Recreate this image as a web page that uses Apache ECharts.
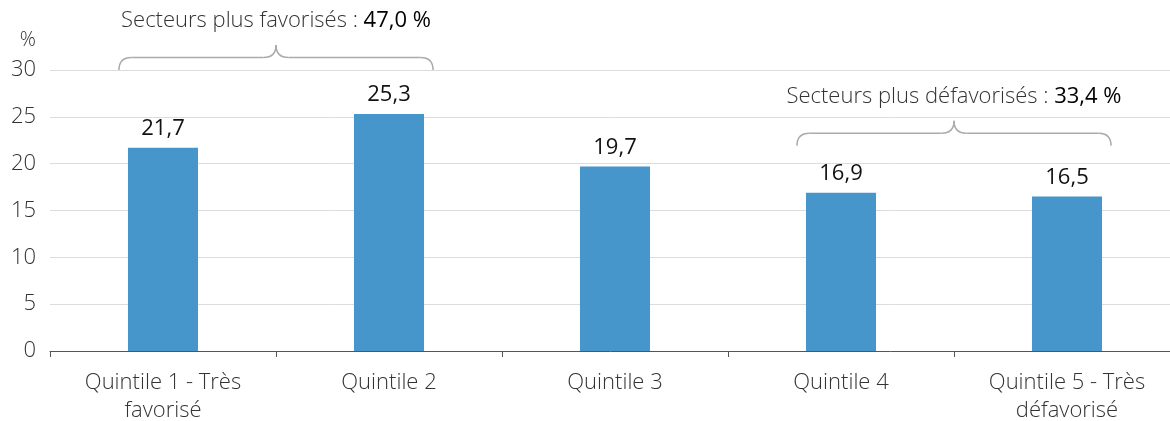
<!DOCTYPE html>
<html>
<head>
<meta charset="utf-8">
<script src="https://cdn.jsdelivr.net/npm/echarts@6/dist/echarts.min.js"></script>
<style>
  html, body { margin: 0; padding: 0; background: #fff; }
  #chart { width: 1170px; height: 421px; }
</style>
</head>
<body>
<div id="chart"></div>
<script>
// données
const categories = ["Quintile 1 - Très\nfavorisé", "Quintile 2", "Quintile 3", "Quintile 4", "Quintile 5 - Très\ndéfavorisé"];
const values = [21.7, 25.3, 19.7, 16.9, 16.5];
const yTicks = [0, 5, 10, 15, 20, 25, 30];
const groupLabels = ["Secteurs plus favorisés : ", "Secteurs plus défavorisés : "];
const groupTotals = ["47,0 %", "33,4 %"];
const groupRanges = [[0, 1], [3, 4]];

const font = "'Open Sans', 'Noto Sans', sans-serif";
const chart = echarts.init(document.getElementById("chart"));

chart.setOption({
  animation: false,
  textStyle: { fontFamily: font },
  grid: { left: 50, right: -10, top: 70, bottom: 70, containLabel: false, outerBoundsMode: "none" },
  xAxis: {
    type: "category",
    data: categories,
    axisLine: { lineStyle: { color: "#555", width: 1 } },
    axisTick: { show: true, length: 6, lineStyle: { color: "#555" } },
    axisLabel: { color: "#333", fontSize: 22, fontWeight: 300, lineHeight: 28, margin: 18, interval: 0 }
  },
  yAxis: {
    type: "value",
    min: yTicks[0],
    max: yTicks[yTicks.length - 1],
    interval: 5,
    name: "%",
    nameLocation: "end",
    nameGap: 20,
    nameTextStyle: { color: "#333", fontSize: 20, fontWeight: 300, align: "right", padding: [0, 14, 0, 0] },
    axisLine: { show: false },
    axisTick: { show: false },
    splitLine: { lineStyle: { color: "#dcdcdc", width: 1 } },
    axisLabel: { color: "#333", fontSize: 22, fontWeight: 300, margin: 14 }
  },
  series: [{
    type: "bar",
    data: values,
    barWidth: "31%",
    itemStyle: { color: "#4796cb" },
    label: {
      show: true,
      position: "top",
      distance: 8,
      color: "#111",
      fontSize: 22,
      fontFamily: font,
      formatter: p => String(p.value).replace(".", ",")
    }
  }]
});

// accolades et textes des regroupements
const braceStyle = { stroke: "#ababab", lineWidth: 1.5, fill: null };
function brace(x1, x2, yb, h) {
  const ym = yb - h / 2, yt = yb - h, xm = (x1 + x2) / 2, r = h / 2;
  const q = (a, b, c, d, e, f) => ({ type: "bezierCurve", shape: { x1: a, y1: b, cpx1: c, cpy1: d, x2: e, y2: f }, style: braceStyle });
  const l = (a, b, c, d) => ({ type: "line", shape: { x1: a, y1: b, x2: c, y2: d }, style: braceStyle });
  return [
    q(x1, yb, x1, ym, x1 + r, ym),
    l(x1 + r, ym, xm - r, ym),
    q(xm - r, ym, xm, ym, xm, yt),
    q(xm, yt, xm, ym, xm + r, ym),
    l(xm + r, ym, x2 - r, ym),
    q(x2 - r, ym, x2, ym, x2, yb)
  ];
}
const braceBase = [30, 21.9];
const graphics = [];
groupRanges.forEach((rg, i) => {
  const step = chart.convertToPixel({ xAxisIndex: 0 }, 1) - chart.convertToPixel({ xAxisIndex: 0 }, 0);
  const half = step * 0.155 + 9;
  const xa = chart.convertToPixel({ xAxisIndex: 0 }, rg[0]) - half;
  const xb = chart.convertToPixel({ xAxisIndex: 0 }, rg[1]) + half;
  const yb = chart.convertToPixel({ yAxisIndex: 0 }, braceBase[i]);
  brace(xa, xb, yb, 25).forEach(g => graphics.push(g));
  graphics.push({
    type: "text",
    x: (xa + xb) / 2,
    y: yb - 49,
    style: {
      text: `{a|${groupLabels[i]}}{b|${groupTotals[i]}}`,
      align: "center",
      verticalAlign: "middle",
      rich: {
        a: { fontFamily: font, fontSize: 22, fontWeight: 300, fill: "#333" },
        b: { fontFamily: font, fontSize: 22, fontWeight: 400, fill: "#000" }
      }
    }
  });
});
chart.setOption({ graphic: graphics });
</script>
</body>
</html>
